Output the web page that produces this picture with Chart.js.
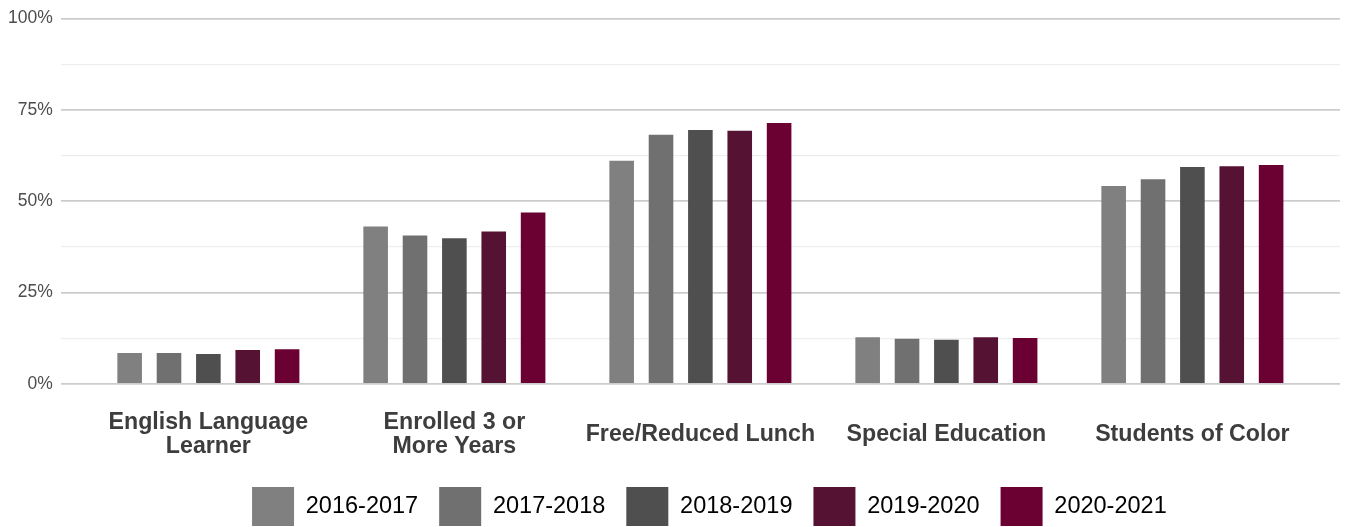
<!DOCTYPE html>
<html>
<head>
<meta charset="utf-8">
<script src="https://cdn.jsdelivr.net/npm/chart.js@4/dist/chart.umd.min.js"></script>
<style>
  html, body { margin: 0; padding: 0; background: #fff; }
</style>
</head>
<body>
<canvas id="chart" width="1347" height="527"></canvas>
<script>
// categories (use \n for the wrapped labels)
var categories = [
  "English Language\nLearner",
  "Enrolled 3 or\nMore Years",
  "Free/Reduced Lunch",
  "Special Education",
  "Students of Color"
];
var years = ["2016-2017", "2017-2018", "2018-2019", "2019-2020", "2020-2021"];

// percent of students, one array per school year
var y2016 = [8.5, 43.1, 61.1, 12.8, 54.2];
var y2017 = [8.5, 40.6, 68.2, 12.4, 56.0];
var y2018 = [8.2, 39.9, 69.5, 12.1, 59.4];
var y2019 = [9.3, 41.7, 69.3, 12.8, 59.6];
var y2020 = [9.5, 46.9, 71.4, 12.6, 59.9];

var yTicks = [0, 25, 50, 75, 100];

var colors = ["#808080", "#707070", "#4f4f4f", "#561232", "#6b0033"];
var series = [y2016, y2017, y2018, y2019, y2020];

var datasets = series.map(function(vals, i) {
  return {
    label: years[i],
    backgroundColor: colors[i],
    borderWidth: 0,
    data: vals.map(function(v, j) { return {x: j + 1, y: v}; })
  };
});

// nudge the legend a little to the right, like the original
var legendShift = {
  id: "legendShift",
  afterUpdate: function(chart) {
    chart.legend.left += 9;
    chart.legend.right += 9;
  }
};

new Chart(document.getElementById("chart").getContext("2d"), {
  type: "bar",
  data: { datasets: datasets },
  plugins: [legendShift],
  options: {
    responsive: false,
    animation: false,
    devicePixelRatio: 1,
    categoryPercentage: 0.8,
    barPercentage: 0.625,
    layout: { padding: { left: 0, right: 7, top: 9, bottom: -9 } },
    font: { family: "'Liberation Sans', Arial, sans-serif" },
    plugins: {
      tooltip: { enabled: false },
      legend: {
        position: "bottom",
        fullSize: false,
        labels: {
          boxWidth: 42,
          boxHeight: 39,
          padding: 21,
          color: "#000",
          font: { size: 23.5, family: "'Liberation Sans', Arial, sans-serif" }
        }
      }
    },
    scales: {
      x: {
        type: "linear",
        min: 0.4,
        max: 5.6,
        bounds: "data",
        offset: false,
        grid: { display: false, drawTicks: false },
        border: { display: false },
        afterBuildTicks: function(scale) {
          scale.ticks = categories.map(function(c, i) { return {value: i + 1}; });
        },
        afterFit: function(scale) { scale.height = 82; },
        ticks: {
          autoSkip: false,
          maxRotation: 0,
          padding: 39,
          crossAlign: "center",
          color: "#3d3d3d",
          font: { size: 23.2, weight: "bold", lineHeight: 1.02, family: "'Liberation Sans', Arial, sans-serif" },
          callback: function(v) { return categories[v - 1].split("\n"); }
        }
      },
      y: {
        min: 0,
        max: 100,
        border: { display: false },
        afterBuildTicks: function(scale) {
          var t = [];
          yTicks.forEach(function(v, i) {
            t.push({value: v});
            if (i < yTicks.length - 1) t.push({value: (v + yTicks[i + 1]) / 2});
          });
          scale.ticks = t;
        },
        grid: {
          drawTicks: false,
          color: function(ctx) { return yTicks.indexOf(ctx.tick.value) >= 0 ? "#cccccc" : "#eeeeee"; },
          lineWidth: function(ctx) { return yTicks.indexOf(ctx.tick.value) >= 0 ? 1.8 : 1.2; }
        },
        ticks: {
          padding: 8,
          color: "#4d4d4d",
          font: { size: 17.5, family: "'Liberation Sans', Arial, sans-serif" },
          callback: function(v) { return yTicks.indexOf(v) >= 0 ? v + "%" : ""; }
        }
      }
    }
  }
});
</script>
</body>
</html>
